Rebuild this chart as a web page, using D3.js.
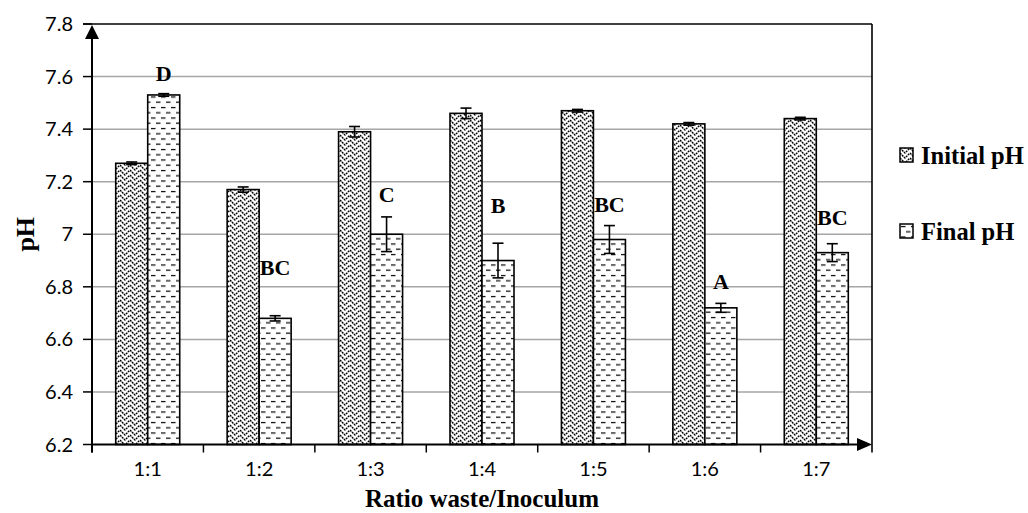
<!DOCTYPE html>
<html>
<head>
<meta charset="utf-8">
<script src="https://cdn.jsdelivr.net/npm/d3@7/dist/d3.min.js"></script>
<style>
    body { margin: 0; background: #fff; }
    svg { display: block; }
    .tick-label { font-family: 'Lato', 'Liberation Sans', sans-serif; font-size: 20px; fill: #000; }
    .serif-bold { font-family: 'Liberation Serif', 'Times New Roman', serif; font-weight: bold; fill: #000; }
</style>
</head>
<body>
<svg id="chart"></svg>
<script>
// data
let categories = ['1:1', '1:2', '1:3', '1:4', '1:5', '1:6', '1:7'];
let initialPH = [7.27, 7.17, 7.39, 7.46, 7.47, 7.42, 7.44];
let initialErr = [0.005, 0.01, 0.02, 0.02, 0.005, 0.005, 0.005];
let finalPH = [7.53, 6.68, 7.00, 6.90, 6.98, 6.72, 6.93];
let finalErr = [0.005, 0.01, 0.066, 0.066, 0.053, 0.017, 0.034];
let letters = ['D', 'BC', 'C', 'B', 'BC', 'A', 'BC'];
let letterLevel = [7.583, 6.846, 7.123, 7.081, 7.085, 6.792, 7.036];
let yTicks = [6.2, 6.4, 6.6, 6.8, 7, 7.2, 7.4, 7.6, 7.8];
let seriesNames = ['Initial pH', 'Final pH'];

let W = 1028, H = 513;
let plot = { left: 92, right: 872, top: 24, bottom: 444.5 };
let barW = 32;

let svg = d3.select('#chart')
    .attr('width', W)
    .attr('height', H);

// patterns
let defs = svg.append('defs');
let zig = defs.append('pattern')
    .attr('id', 'zigzag')
    .attr('patternUnits', 'userSpaceOnUse')
    .attr('width', 10)
    .attr('height', 5);
zig.append('rect').attr('width', 10).attr('height', 5).attr('fill', '#fff');
zig.append('path')
    .attr('d', 'M0,0 L5,5 L10,0 M0,5 L5,10 L10,5 M0,-5 L5,0 L10,-5')
    .attr('stroke', '#000')
    .attr('stroke-width', 1.4)
    .attr('stroke-dasharray', '2,0.8')
    .attr('fill', 'none');

let dash = defs.append('pattern')
    .attr('id', 'dashes')
    .attr('patternUnits', 'userSpaceOnUse')
    .attr('width', 10)
    .attr('height', 10.5);
dash.append('rect').attr('width', 10).attr('height', 10.5).attr('fill', '#fff');
dash.append('path')
    .attr('d', 'M1,2.5 H5.5 M6,7.75 H10.5 M-4,7.75 H0.5')
    .attr('stroke', '#000')
    .attr('stroke-width', 1.3)
    .attr('fill', 'none');

let x = d3.scaleBand()
    .domain(categories)
    .range([plot.left, plot.right])
    .padding(0);

let y = d3.scaleLinear()
    .domain([6.2, 7.8])
    .range([plot.bottom, plot.top]);

// grid lines
svg.append('g')
    .selectAll('line')
    .data(yTicks.filter(function(d) { return d > 6.2 && d < 7.8; }))
    .enter()
    .append('line')
    .attr('x1', plot.left)
    .attr('x2', plot.right)
    .attr('y1', function(d) { return y(d); })
    .attr('y2', function(d) { return y(d); })
    .attr('stroke', '#a6a6a6')
    .attr('stroke-width', 1.5);

// top border + right border
svg.append('line')
    .attr('x1', plot.left - 9).attr('x2', plot.right)
    .attr('y1', y(7.8)).attr('y2', y(7.8))
    .attr('stroke', '#000').attr('stroke-width', 1.6);
svg.append('line')
    .attr('x1', plot.right).attr('x2', plot.right)
    .attr('y1', y(7.8)).attr('y2', plot.bottom + 8)
    .attr('stroke', '#000').attr('stroke-width', 1.6);

// bars
let groups = svg.append('g')
    .selectAll('g.cat')
    .data(categories)
    .enter()
    .append('g')
    .attr('class', 'cat');

function barData(i) {
    let c = x(categories[i]) + x.bandwidth() / 2;
    return [
        { x0: c - barW, v: initialPH[i], e: initialErr[i], fill: 'url(#zigzag)' },
        { x0: c, v: finalPH[i], e: finalErr[i], fill: 'url(#dashes)' }
    ];
}

groups.each(function(d, i) {
    let g = d3.select(this);
    let bars = barData(i);
    g.selectAll('rect')
        .data(bars)
        .enter()
        .append('rect')
        .attr('x', function(b) { return b.x0; })
        .attr('y', function(b) { return y(b.v); })
        .attr('width', barW)
        .attr('height', function(b) { return y(6.2) - y(b.v); })
        .attr('fill', function(b) { return b.fill; })
        .attr('stroke', '#000')
        .attr('stroke-width', 1.6);

    // error bars
    bars.forEach(function(b) {
        let cx = b.x0 + barW / 2;
        let eb = g.append('g')
            .attr('stroke', '#000')
            .attr('stroke-width', 1.6);
        eb.append('line')
            .attr('x1', cx).attr('x2', cx)
            .attr('y1', y(b.v + b.e)).attr('y2', y(b.v - b.e));
        eb.append('line')
            .attr('x1', cx - 5.5).attr('x2', cx + 5.5)
            .attr('y1', y(b.v + b.e)).attr('y2', y(b.v + b.e));
        eb.append('line')
            .attr('x1', cx - 5.5).attr('x2', cx + 5.5)
            .attr('y1', y(b.v - b.e)).attr('y2', y(b.v - b.e));
    });

    // letter labels
    g.append('text')
        .attr('class', 'serif-bold')
        .attr('x', x(categories[i]) + x.bandwidth() / 2 + barW / 2)
        .attr('y', y(letterLevel[i]))
        .attr('text-anchor', 'middle')
        .attr('font-size', 22)
        .text(letters[i]);
});

// x axis
let xAxis = svg.append('g');
xAxis.append('line')
    .attr('x1', plot.left).attr('x2', plot.right - 12)
    .attr('y1', plot.bottom).attr('y2', plot.bottom)
    .attr('stroke', '#000').attr('stroke-width', 2);
xAxis.append('path')
    .attr('d', 'M' + plot.right + ',' + plot.bottom + ' l-15,-6.5 l0,13 Z')
    .attr('fill', '#000');
xAxis.selectAll('line.xt')
    .data(categories)
    .enter()
    .append('line')
    .attr('class', 'xt')
    .attr('x1', function(d) { return x(d); })
    .attr('x2', function(d) { return x(d); })
    .attr('y1', plot.bottom)
    .attr('y2', plot.bottom + 8)
    .attr('stroke', '#000').attr('stroke-width', 1.5);
xAxis.selectAll('text')
    .data(categories)
    .enter()
    .append('text')
    .attr('class', 'tick-label')
    .attr('x', function(d) { return x(d) + x.bandwidth() / 2; })
    .attr('y', plot.bottom + 31)
    .attr('text-anchor', 'middle')
    .text(function(d) { return d; });

// y axis
let yAxis = svg.append('g');
yAxis.append('line')
    .attr('x1', plot.left).attr('x2', plot.left)
    .attr('y1', plot.top + 12).attr('y2', plot.bottom + 8)
    .attr('stroke', '#000').attr('stroke-width', 2);
yAxis.append('path')
    .attr('d', 'M' + plot.left + ',' + (plot.top + 1) + ' l-7,14 l14,0 Z')
    .attr('fill', '#000');
yAxis.selectAll('line.yt')
    .data(yTicks)
    .enter()
    .append('line')
    .attr('class', 'yt')
    .attr('x1', plot.left - 9)
    .attr('x2', plot.left)
    .attr('y1', function(d) { return y(d); })
    .attr('y2', function(d) { return y(d); })
    .attr('stroke', '#000').attr('stroke-width', 1.5);
yAxis.selectAll('text')
    .data(yTicks)
    .enter()
    .append('text')
    .attr('class', 'tick-label')
    .attr('x', plot.left - 19)
    .attr('y', function(d) { return y(d); })
    .attr('dy', '0.35em')
    .attr('text-anchor', 'end')
    .text(function(d) { return d3.format('~g')(d); });

// axis titles
svg.append('text')
    .attr('class', 'serif-bold')
    .attr('font-size', 25)
    .attr('text-anchor', 'middle')
    .attr('x', 482)
    .attr('y', 507)
    .text('Ratio waste/Inoculum');
svg.append('text')
    .attr('class', 'serif-bold')
    .attr('font-size', 26)
    .attr('text-anchor', 'middle')
    .attr('transform', 'translate(34,' + y(7) + ') rotate(-90)')
    .text('pH');

// legend
let legend = svg.append('g')
    .selectAll('g.leg')
    .data(seriesNames)
    .enter()
    .append('g')
    .attr('class', 'leg')
    .attr('transform', function(d, i) { return 'translate(900,' + (148 + i * 76) + ')'; });
legend.append('rect')
    .attr('width', 13)
    .attr('height', 14)
    .attr('fill', function(d, i) { return i === 0 ? 'url(#zigzag)' : 'url(#dashes)'; })
    .attr('stroke', '#000')
    .attr('stroke-width', 1.5);
legend.append('text')
    .attr('class', 'serif-bold')
    .attr('font-size', 24.5)
    .attr('x', 21)
    .attr('y', 16)
    .text(function(d) { return d; });
</script>
</body>
</html>
